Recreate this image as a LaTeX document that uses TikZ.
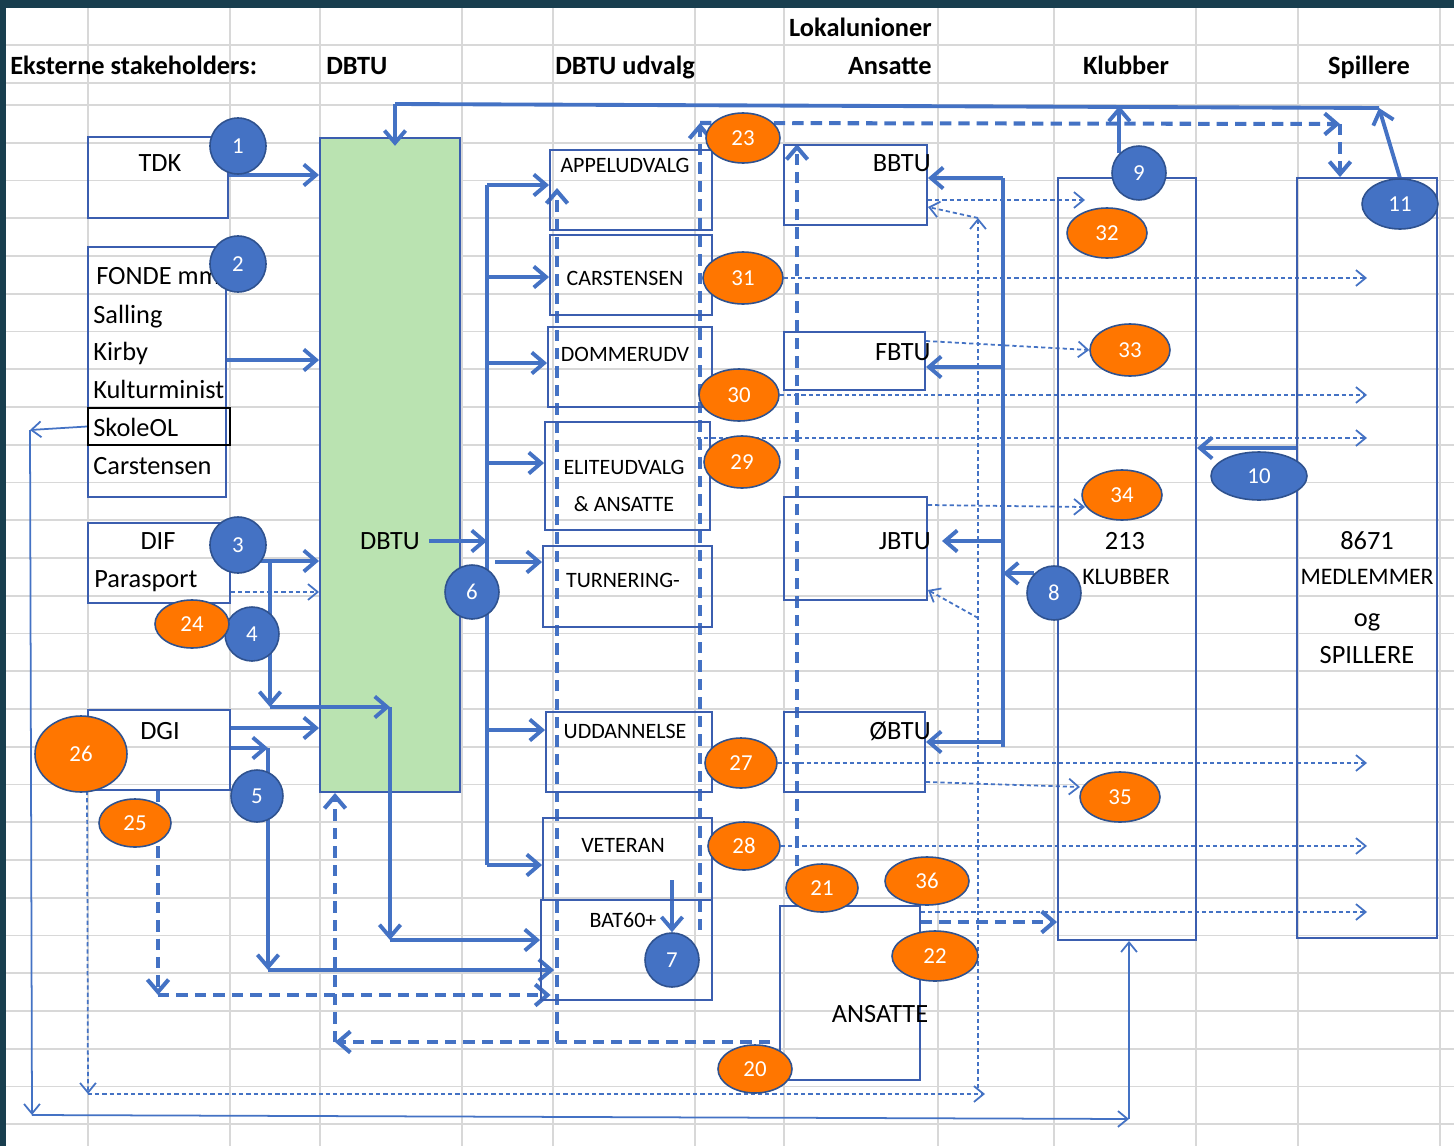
\documentclass[tikz,border=0pt]{standalone}
\usepackage{fontspec}
\setmainfont{Carlito}
\usetikzlibrary{arrows.meta,shapes.geometric}
\definecolor{xlblue}{RGB}{68,114,196}
\definecolor{xlline}{RGB}{59,94,175}
\definecolor{xledge}{RGB}{47,82,143}
\definecolor{xlorange}{RGB}{255,118,0}
\definecolor{xlgreen}{RGB}{186,227,177}
\definecolor{gridgray}{RGB}{216,216,216}
\definecolor{framedark}{RGB}{24,62,78}
\definecolor{frameteal}{RGB}{56,108,104}
\pgfdeclarelayer{sheet}
\pgfdeclarelayer{wires}
\pgfsetlayers{sheet,wires,main}

\begin{document}
\begin{tikzpicture}[x=0.02cm,y=-0.02cm,
  box/.style 2 args={draw=xlline,line width=1.1pt,inner sep=0pt,minimum width=#1*0.02cm,minimum height=#2*0.02cm},
  lbl/.style={inner sep=0pt,font=\fontsize{15}{17}\selectfont,text height=9.7pt,text depth=0pt},
  hdr/.style={lbl,font=\fontsize{15}{17}\selectfont\bfseries},
  cmt/.style={inner sep=0pt,font=\fontsize{12.5}{14}\selectfont,text height=8pt,text depth=0pt},
  bnum/.style={circle,fill=xlblue,draw=xledge,line width=0.9pt,text=white,inner sep=0pt,font=\fontsize{13}{15}\selectfont,minimum size=#1*0.02cm},
  bov/.style 2 args={ellipse,fill=xlblue,draw=xledge,line width=0.9pt,text=white,inner sep=0pt,font=\fontsize{13}{15}\selectfont,minimum width=#1*0.02cm,minimum height=#2*0.02cm},
  onum/.style 2 args={bov={#1}{#2},fill=xlorange},
  bar/.style={draw=xlblue,line width=2.2pt},
  arr/.style={bar,-{Straight Barb[length=7pt,width=12pt]}},
  darr/.style={arr,line width=2.3pt,dash pattern=on 6.5pt off 4pt},
  sarr/.style={draw=xlblue,line width=1pt,-{Straight Barb[length=5.5pt,width=9pt]}},
  tarr/.style={sarr,dash pattern=on 2.4pt off 1.7pt}]

\useasboundingbox (0,0) rectangle (1454,1146);

\begin{pgfonlayer}{sheet}
\fill[framedark] (0,0) rectangle (1454,1146);
\shade[left color=framedark,middle color=frameteal,right color=framedark] (0,0) rectangle (1454,8);
\fill[white] (6,8) rectangle (1454,1146);
\foreach \gx in {88,230,320,462,553,695,784,938,1054,1196,1298,1440}
  \draw[gridgray,line width=1pt] (\gx,8) -- (\gx,1146);
\foreach \gy in {45,83}
  \draw[gridgray,line width=1pt] (6,\gy) -- (1454,\gy);
\foreach \k in {0,...,27}
  \draw[gridgray,line width=1pt] (6,{105+37.75*\k}) -- (1454,{105+37.75*\k});
\node[box={140}{654},fill=xlgreen] (dbtu) at (390,465) {};
\end{pgfonlayer}

\node[hdr,anchor=east] (hLokal) at (932,28) {Lokalunioner};
\node[hdr,anchor=west] (hEkst) at (10,66) {Eksterne stakeholders:};
\node[hdr,anchor=west] (hDbtu) at (326,66) {DBTU};
\node[hdr,anchor=west] (hUdv) at (555,66) {DBTU udvalg};
\node[hdr,anchor=east] (hAns) at (932,66) {Ansatte};
\node[hdr] (hKlub) at (1126,66) {Klubber};
\node[hdr] (hSpil) at (1369,66) {Spillere};

\node[box={140}{81}] (tdk) at (158,177.5) {};
\node[box={138}{250}] (fonde) at (157,372) {};
\node[box={142}{37},draw=black] (skole) at (159,426.5) {};
\node[box={142}{80}] (dif) at (159,563) {};
\node[box={142}{80}] (dgi) at (159,750) {};
\node[box={162}{80}] (appel) at (631,190) {};
\node[box={162}{80}] (carst) at (631,275) {};
\node[box={164}{80}] (domm) at (630,367) {};
\node[box={165}{108}] (elite) at (627.5,476) {};
\node[box={169}{81}] (turn) at (627.5,586.5) {};
\node[box={166}{80}] (udd) at (629,752) {};
\node[box={169}{82}] (vet) at (627.5,859) {};
\node[box={171}{100}] (bat) at (626.5,950) {};
\node[box={143}{80}] (bbtu) at (855.5,185) {};
\node[box={141}{58}] (fbtu) at (854.5,361) {};
\node[box={143}{103}] (jbtu) at (855.5,548.5) {};
\node[box={141}{80}] (obtu) at (854.5,752) {};
\node[box={140}{174}] (ansatte) at (850,993) {};
\node[box={138}{762}] (klub) at (1127,559) {};
\node[box={140}{760}] (spil) at (1367,558) {};

\node[lbl] (tdkT) at (160,163) {TDK};
\node[lbl,anchor=west] (fondeT) at (96,276) {FONDE mm};
\node[lbl,anchor=west] (sallT) at (93,315) {Salling};
\node[lbl,anchor=west] (kirbyT) at (93,352) {Kirby};
\node[lbl,anchor=west] (kultT) at (93,390) {Kulturminist};
\node[lbl,anchor=west] (skoleT) at (93,428) {SkoleOL};
\node[lbl,anchor=west] (carsT) at (93,466) {Carstensen};
\node[lbl] (difT) at (158,541) {DIF};
\node[lbl,anchor=west] (paraT) at (94,579) {Parasport};
\node[lbl] (dgiT) at (160,731) {DGI};
\node[lbl] (dbtuT) at (390,541) {DBTU};
\node[cmt] (appelT) at (625,165) {APPELUDVALG};
\node[cmt] (carstT) at (625,278) {CARSTENSEN};
\node[cmt] (dommT) at (625,354) {DOMMERUDV};
\node[cmt] (eliteT) at (624,467) {ELITEUDVALG};
\node[cmt] (eliteT2) at (624,504) {\& ANSATTE};
\node[cmt] (turnT) at (623,580) {TURNERING-};
\node[cmt] (uddT) at (625,731) {UDDANNELSE};
\node[cmt] (vetT) at (623,845) {VETERAN};
\node[cmt] (batT) at (623,920) {BAT60+};
\node[lbl,anchor=east] (bbtuT) at (931,163) {BBTU};
\node[lbl,anchor=east] (fbtuT) at (931,352) {FBTU};
\node[lbl,anchor=east] (jbtuT) at (931,541) {JBTU};
\node[lbl,anchor=east] (obtuT) at (931,731) {ØBTU};
\node[lbl] (ansT) at (880,1014) {ANSATTE};
\node[lbl] (klubT) at (1125,541) {213};
\node[cmt,font=\fontsize{13.5}{15}\selectfont] (klubT2) at (1126,577) {KLUBBER};
\node[lbl] (spilT) at (1367,541) {8671};
\node[cmt,font=\fontsize{13.5}{15}\selectfont] (spilT2) at (1367,577) {MEDLEMMER};
\node[lbl] (spilT3) at (1367,618) {og};
\node[lbl] (spilT4) at (1367,655) {SPILLERE};

\node[bnum=56] (n1) at (238,146) {1};
\node[bnum=56] (n2) at (238,264) {2};
\node[bnum=56] (n3) at (238,545) {3};
\node[bnum=54] (n4) at (252,634) {4};
\node[bnum=52] (n5) at (257,796) {5};
\node[bnum=54] (n6) at (472,592) {6};
\node[bnum=54] (n7) at (672,960) {7};
\node[bnum=54] (n8) at (1054,593) {8};
\node[bnum=54] (n9) at (1139,173) {9};
\node[bov={96}{48}] (n10) at (1259,476) {10};
\node[bov={76}{50}] (n11) at (1400,204) {11};

\node[onum={74}{48}] (o24) at (192,624) {24};
\node[onum={92}{76}] (o26) at (81,754) {26};
\node[onum={72}{48}] (o25) at (135,823) {25};
\node[onum={74}{50}] (o23) at (743,138) {23};
\node[onum={80}{52}] (o31) at (743,278) {31};
\node[onum={80}{52}] (o30) at (739,395) {30};
\node[onum={76}{52}] (o29) at (742,462) {29};
\node[onum={72}{50}] (o27) at (741,763) {27};
\node[onum={72}{48}] (o28) at (744,846) {28};
\node[onum={72}{48}] (o21) at (822,888) {21};
\node[onum={84}{48}] (o36) at (927,881) {36};
\node[onum={86}{50}] (o22) at (935,956) {22};
\node[onum={74}{48}] (o20) at (755,1069) {20};
\node[onum={80}{50}] (o32) at (1107,233) {32};
\node[onum={80}{52}] (o33) at (1130,350) {33};
\node[onum={80}{50}] (o34) at (1122,495) {34};
\node[onum={80}{50}] (o35) at (1120,797) {35};

\begin{pgfonlayer}{wires}
\coordinate (t1) at (395,104);
\coordinate (t2) at (1125,106);
\coordinate (t3) at (1379,108);
\draw[bar] (t1) -- (t3);
\draw[arr,shorten >=-5pt] (t1) -- (t1 |- dbtu.north);
\draw[arr] (n9.north west) -- (n9.north west |- t2);
\draw[arr] (n11.north) -- (t3);

\draw[arr] (tdk.east |- 0,175) -- (dbtu.west |- 0,175);
\draw[arr] (fonde.east |- 0,360) -- (dbtu.west |- 0,360);
\draw[arr] (dif.east |- 0,561) -- (dbtu.west |- 0,561);
\draw[tarr] (dif.east |- 0,592) -- (dbtu.west |- 0,592);
\coordinate (j4a) at (270,561);
\coordinate (j4b) at (270,707);
\coordinate (j4c) at (390,707);
\coordinate (j4d) at (390,940);
\draw[arr] (j4a) -- (j4b);
\draw[arr] (j4b) -- (j4c);
\draw[arr] (j4c) -- (j4d);
\draw[arr] (j4d) -- (j4d -| bat.west);
\draw[arr] (dgi.east |- 0,728) -- (dbtu.west |- 0,728);
\coordinate (j5a) at (268,748);
\coordinate (j5b) at (268,970);
\draw[arr] (dgi.east |- j5a) -- (j5a);
\draw[arr] (j5a) -- (j5b);
\draw[arr,shorten >=-8pt] (j5b) -- (j5b -| bat.west);
\coordinate (j25) at (158,995);
\draw[darr] (dgi.south -| j25) -- (j25);
\draw[darr,shorten >=-6pt] (j25) -- (j25 -| bat.west);
\coordinate (j26a) at (88,1094);
\coordinate (j26b) at (985,1094);
\coordinate (j26c) at (978,1088);
\coordinate (j26d) at (978,218);
\coordinate (j26e) at (978,618);
\draw[tarr] (dgi.south west) -- (j26a);
\draw[tarr] (j26a) -- (j26b);
\draw[tarr] (j26c) -- (j26d);
\draw[tarr] (j26d) -- (bbtu.east |- 0,207);
\draw[tarr] (j26e) -- (jbtu.east |- 0,590);
\coordinate (js1) at (30,430);
\coordinate (js2) at (32,1115);
\coordinate (js3) at (1129,1119);
\draw[sarr] (skole.west) -- (js1);
\draw[sarr] (js1) -- (js2);
\draw[sarr] (js2) -- (js3);
\draw[sarr] (js3) -- (js3 |- klub.south);

\coordinate (s6a) at (487,185);
\coordinate (s6b) at (487,865);
\coordinate (s6t) at (495,562);
\draw[bar] (s6a) -- (s6b);
\draw[arr] ([xshift=5pt]dbtuT.east) -- (dbtuT.east -| s6a);
\foreach \u/\yy in {appel/185,carst/277,domm/363,elite/463,udd/730,vet/865}
  \draw[arr] (s6a |- 0,\yy) -- (\u.west |- 0,\yy);
\draw[arr] (s6t) -- (s6t -| turn.west);
\coordinate (j7) at (672,880);
\draw[arr] (j7) -- (n7.north);

\coordinate (jA) at (557,188);
\coordinate (j20a) at (770,1042);
\coordinate (j20b) at (335,1042);
\draw[darr] (j20a) -- (j20b);
\draw[darr] (j20b) -- (j20b |- dbtu.south);
\draw[darr] (jA |- j20a) -- (jA);
\coordinate (j23a) at (700,930);
\coordinate (j23b) at (700,123);
\coordinate (j23c) at (1340,124);
\draw[darr] (j23a) -- (j23b);
\draw[darr] (j23b) -- (j23c);
\draw[darr] (j23c) -- (j23c |- spil.north);
\coordinate (j21) at (797,866);
\draw[darr] (j21) -- (j21 |- bbtu.north);
\draw[darr] (ansatte.east |- 0,922) -- (klub.west |- 0,922);

\coordinate (l1) at (1003,178);
\coordinate (l2) at (1003,747);
\draw[bar] (l1) -- (l2);
\draw[arr] (l1) -- (l1 -| bbtu.east);
\draw[arr] (l1 |- 0,367) -- (fbtu.east |- 0,367);
\draw[arr,shorten >=8pt] (l1 |- 0,541) -- (jbtu.east |- 0,541);
\draw[arr] (l1 |- 0,742) -- (obtu.east |- 0,742);
\draw[arr] (n8.north west) -- (n8.north west -| l1);
\draw[arr] (spil.west |- 0,448) -- (klub.east |- 0,448);

\coordinate (sp) at (1367,0);
\coordinate (e32) at (1085,200);
\coordinate (e29) at (697,438);
\coordinate (e34) at (1085,507);
\coordinate (e35) at (1080,787);
\draw[tarr] (bbtu.east |- e32) -- (e32);
\draw[tarr] (o31.east) -- (sp |- o31);
\draw[tarr] (fbtu.east |- 0,341) -- (o33.west);
\draw[tarr] (o30.east) -- (sp |- o30);
\draw[tarr] (e29) -- (sp |- e29);
\draw[tarr] (jbtu.east |- 0,505) -- (e34);
\draw[tarr] (o27.east) -- (sp |- o27);
\draw[tarr] (obtu.east |- 0,782) -- (e35);
\draw[tarr] (o28.east) -- (sp |- o28);
\draw[tarr] (ansatte.east |- 0,912) -- (sp |- 0,912);
\end{pgfonlayer}
\end{tikzpicture}
\end{document}
